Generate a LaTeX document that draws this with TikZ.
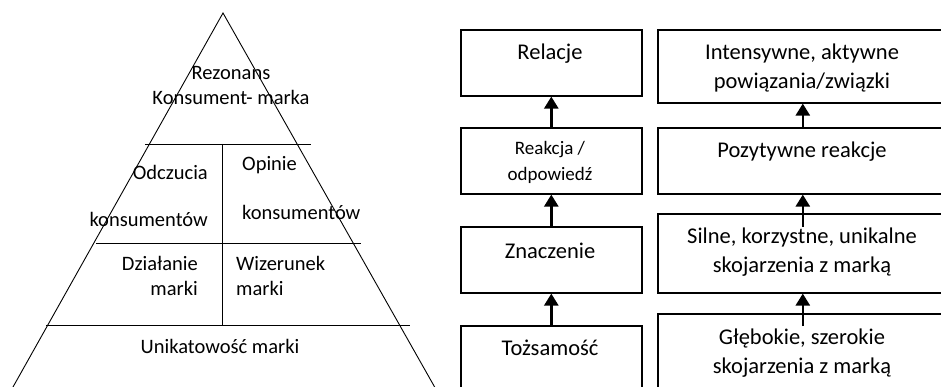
\documentclass[tikz,border=0pt]{standalone}
\usepackage{fontspec}
\setmainfont{Carlito}
\usetikzlibrary{arrows.meta}
\tikzset{
	blok/.style={draw, line width=1.6pt, inner sep=0pt},
	strz/.style={line width=2.6pt, -{Triangle[width=14pt,length=12pt]}},
	duzy/.style={font=\fontsize{22.5}{29}\selectfont, align=center, inner sep=0pt},
	maly/.style={font=\fontsize{19}{26}\selectfont, align=center, inner sep=0pt},
	piram/.style={font=\fontsize{20.5}{25}\selectfont, inner sep=0pt},
}

\begin{document}
\begin{tikzpicture}[x=1pt, y=-1pt]
	\useasboundingbox (0,0) rectangle (941,387);
	\clip (0,0) rectangle (941,387);

	% piramida
	\draw[line width=0.9pt] (5.7,400) -- (223,13) -- (442,400);
	\draw[line width=0.9pt] (145,144) -- (311,144);
	\draw[line width=0.9pt] (96,243) -- (361,243);
	\draw[line width=0.9pt] (46,325) -- (410,325);
	\draw[line width=0.9pt] (222,144) -- (222,325);

	\node[piram, align=center] (rez) at (231,86) {Rezonans\\Konsument- marka};
	\node[piram, anchor=east] (odc) at (208,172) {Odczucia};
	\node[piram, anchor=east] (kon1) at (208,219) {konsumentów};
	\node[piram, anchor=west] (opi) at (242,165) {Opinie};
	\node[piram, anchor=west] (kon2) at (242,212) {konsumentów};
	\node[piram, anchor=east, align=right] (dzi) at (198,276) {Działanie\\marki};
	\node[piram, anchor=west, align=left] (wiz) at (236,276) {Wizerunek\\marki};
	\node[piram] (uni) at (220,346) {Unikatowość marki};

	% bloki - lewa kolumna
	\node[blok, anchor=north west, minimum width=181pt, minimum height=66pt] (rel) at (460,29) {};
	\node[blok, anchor=north west, minimum width=181pt, minimum height=66pt] (rea) at (460,127) {};
	\node[blok, anchor=north west, minimum width=181pt, minimum height=66pt] (zna) at (460,226) {};
	\node[blok, anchor=north west, minimum width=181pt, minimum height=80pt] (toz) at (460,325) {};

	% bloki - prawa kolumna
	\node[blok, anchor=north west, minimum width=290pt, minimum height=73pt] (int) at (657,29) {};
	\node[blok, anchor=north west, minimum width=290pt, minimum height=66pt] (poz) at (657,127) {};
	\node[blok, anchor=north west, minimum width=290pt, minimum height=79pt] (sil) at (657,213) {};
	\node[blok, anchor=north west, minimum width=290pt, minimum height=90pt] (gle) at (657,313) {};

	\node[duzy] (trel) at (550,54) {Relacje};
	\node[maly] (trea) at (550,162) {Reakcja /\\odpowiedź};
	\node[duzy] (tzna) at (550,251) {Znaczenie};
	\node[duzy] (ttoz) at (550,348) {Tożsamość};
	\node[duzy] (tint) at (802,68) {Intensywne, aktywne\\powiązania/związki};
	\node[duzy] (tpoz) at (802,152) {Pozytywne reakcje};
	\node[duzy] (tsil) at (802,252) {Silne, korzystne, unikalne\\skojarzenia z marką};
	\node[duzy] (tgle) at (802,353) {Głębokie, szerokie\\skojarzenia z marką};

	% strzalki
	\draw[strz] (rea.north) -- (rel.south);
	\draw[strz] (zna.north) -- (rea.south);
	\draw[strz] (toz.north) -- (zna.south);
	\draw[strz] (poz.north) -- (int.south);
	\draw[strz] ([yshift=-14pt]sil.north) -- (poz.south);
	\draw[strz] ([yshift=-13pt]gle.north) -- (sil.south);
\end{tikzpicture}
\end{document}
